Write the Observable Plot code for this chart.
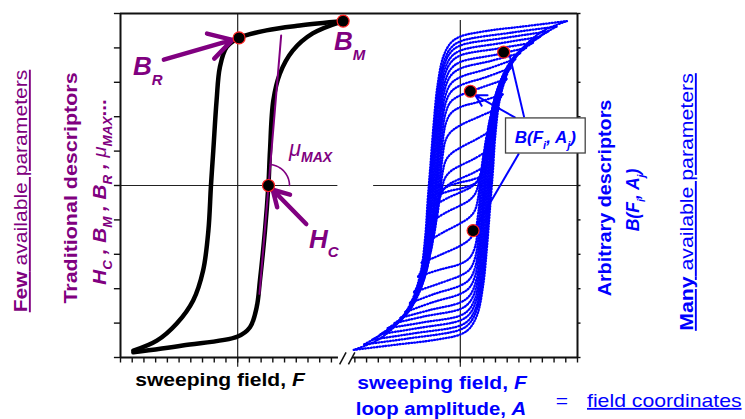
<!DOCTYPE html>
<html><head><meta charset="utf-8">
<script src="https://cdn.jsdelivr.net/npm/d3@7"></script>
<script src="https://cdn.jsdelivr.net/npm/@observablehq/plot@0.6"></script>
<style>body{margin:0;background:#fff} svg{display:block}</style>
</head><body><div id="chart"></div>
<script>
// ---------------- data ----------------
// left panel: major hysteresis loop (field F, induction B)
const majorDescending = [[9.0,4.78],[5.3,4.65],[2.45,4.51],[0.1,4.29],[-0.95,4.02],[-1.52,3.44],[-1.8,2.47],[-2.08,1.02],[-2.28,0],[-2.5,-1.31],[-2.95,-2.47],[-3.8,-3.34],[-5.2,-4.01],[-6.9,-4.51],[-8.9,-4.8]];
const majorAscending  = [[-8.9,-4.85],[-4.7,-4.65],[0,-4.39],[1.05,-4.12],[1.62,-3.54],[1.9,-2.76],[2.33,-1.31],[2.62,0],[2.76,1.02],[3.04,2.47],[3.6,3.25],[4.7,3.92],[6.4,4.42],[9.0,4.78]];
// traditional descriptors
const HC = [2.63, 0], BR = [0.12, 4.29], BM = [9.0, 4.78];
const tangentMuMax = [[1.86,-3.15],[3.71,4.36]];
// right panel: family of symmetric loops (descending branches; ascending = point reflection)
const loop1  = [[9.1,4.78],[5.3,4.62],[2.4,4.5],[0,4.33],[-0.8,4.15],[-1.45,3.75],[-1.95,2.9],[-2.3,1.7],[-2.55,0.6],[-2.78,-0.4],[-3.0,-1.5],[-3.4,-2.55],[-4.2,-3.4],[-5.4,-4.02],[-7.0,-4.48],[-9.1,-4.78]];
const loop2  = [[8.2,4.62],[4.5,4.45],[0,4.19],[-0.8,4.0],[-1.42,3.6],[-1.9,2.75],[-2.24,1.6],[-2.5,0.5],[-2.72,-0.5],[-2.94,-1.55],[-3.32,-2.55],[-4.05,-3.35],[-5.3,-3.98],[-8.2,-4.62]];
const loop3  = [[7.5,4.48],[4,4.3],[0,4.07],[-0.8,3.88],[-1.4,3.48],[-1.86,2.6],[-2.19,1.5],[-2.44,0.4],[-2.66,-0.6],[-2.88,-1.6],[-3.25,-2.55],[-3.95,-3.3],[-5.1,-3.92],[-7.5,-4.48]];
const loop4  = [[6.8,4.32],[3.5,4.14],[0,3.92],[-0.8,3.73],[-1.38,3.32],[-1.82,2.45],[-2.14,1.35],[-2.38,0.3],[-2.6,-0.7],[-2.82,-1.65],[-3.18,-2.55],[-3.85,-3.25],[-4.9,-3.85],[-6.8,-4.32]];
const loop5  = [[6.2,4.15],[3.2,3.98],[0,3.78],[-0.8,3.58],[-1.36,3.17],[-1.78,2.3],[-2.09,1.2],[-2.32,0.2],[-2.54,-0.8],[-2.76,-1.7],[-3.12,-2.55],[-3.72,-3.2],[-4.7,-3.78],[-6.2,-4.15]];
const loop6  = [[5.6,4.0],[3.0,3.8],[0,3.59],[-0.8,3.39],[-1.34,2.98],[-1.74,2.1],[-2.03,1.0],[-2.26,0.05],[-2.48,-0.9],[-2.7,-1.75],[-3.06,-2.55],[-3.62,-3.15],[-4.5,-3.7],[-5.6,-4.0]];
const loop7  = [[5.1,3.85],[2.6,3.62],[0,3.40],[-0.8,3.2],[-1.32,2.8],[-1.71,1.95],[-1.98,0.85],[-2.2,-0.1],[-2.42,-1.0],[-2.65,-1.8],[-3.0,-2.55],[-3.5,-3.1],[-4.3,-3.6],[-5.1,-3.85]];
const loop8  = [[4.7,3.68],[2.4,3.4],[0,3.15],[-0.8,2.96],[-1.3,2.58],[-1.68,1.75],[-1.94,0.7],[-2.15,-0.2],[-2.37,-1.1],[-2.6,-1.85],[-2.95,-2.55],[-3.45,-3.05],[-4.1,-3.45],[-4.7,-3.68]];
const loop9  = [[4.3,3.42],[2.2,3.15],[0,2.91],[-0.8,2.72],[-1.28,2.36],[-1.65,1.55],[-1.9,0.55],[-2.1,-0.35],[-2.32,-1.2],[-2.56,-1.9],[-2.9,-2.5],[-3.5,-3.05],[-4.3,-3.42]];
const loop10 = [[3.95,3.1],[0.9,2.74],[0,2.62],[-0.8,2.44],[-1.26,2.1],[-1.6,1.35],[-1.84,0.4],[-2.05,-0.5],[-2.28,-1.3],[-2.55,-1.95],[-2.95,-2.5],[-3.95,-3.1]];
const loop11 = [[3.6,2.65],[1.8,2.45],[0,2.28],[-0.8,2.1],[-1.24,1.8],[-1.56,1.1],[-1.78,0.2],[-2.0,-0.65],[-2.26,-1.4],[-2.6,-2.0],[-3.6,-2.65]];
const loop12 = [[3.3,2.25],[1.6,2.0],[0,1.75],[-0.8,1.56],[-1.25,1.32],[-1.53,0.8],[-1.74,0.0],[-1.97,-0.8],[-2.26,-1.45],[-2.7,-1.9],[-3.3,-2.25]];
const loop13 = [[2.9,1.65],[1.4,1.35],[0,1.1],[-0.8,0.92],[-1.25,0.72],[-1.52,0.35],[-1.74,-0.3],[-2.02,-0.95],[-2.45,-1.4],[-2.9,-1.65]];
const loop14 = [[2.5,1.05],[1.2,0.78],[0,0.58],[-0.8,0.42],[-1.3,0.22],[-1.62,-0.15],[-1.92,-0.6],[-2.2,-0.9],[-2.5,-1.05]];
const loop15 = [[2.1,0.55],[1.0,0.35],[0,0.2],[-0.9,0.05],[-1.4,-0.1],[-1.75,-0.35],[-2.1,-0.55]];
const loop16 = [[1.75,0.25],[0.8,0.15],[0,0.09],[-0.9,0.0],[-1.4,-0.1],[-1.75,-0.25]];
const loops = [loop1,loop2,loop3,loop4,loop5,loop6,loop7,loop8,loop9,loop10,loop11,loop12,loop13,loop14,loop15,loop16];
// arbitrary descriptors B(Fi, Aj)
const arbitraryPoints = [[3.70,3.875],[0.86,2.74],[1.09,-1.31]];
// axis ticks
const leftTicksX  = d3.range(-10, 9);
const rightTicksX = d3.range(-9, 11);
const ticksY = d3.range(-5, 6);

// ---------------- layout ----------------
const OFFSET = 19;           // right panel origin on the shared x scale
const PURPLE = "#800080", BLUE = "#0000ff";
const xy = (d, o = 0) => ({x: d[0] + o, y: d[1]});

const leftA = majorAscending.map(d => xy(d)), leftD = majorDescending.map(d => xy(d));
const family = [];
loops.forEach((lp, i) => {
  lp.forEach(d => family.push({x: d[0] + OFFSET, y: d[1], k: "d" + i}));
  lp.map(d => [-d[0], -d[1]]).forEach(d => family.push({x: d[0] + OFFSET, y: d[1], k: "a" + i}));
});
const rDots = arbitraryPoints.map(d => xy(d, OFFSET));

// μ arc (pixel radius converted to data units)
const kx = (745 - 120 - 168) / 39, ky = (419 - 13 - 62) / 10;
const tanAng = Math.atan2((tangentMuMax[1][1] - tangentMuMax[0][1]) * ky, (tangentMuMax[1][0] - tangentMuMax[0][0]) * kx);
const arc = d3.range(0, 1.001, 0.05).map(t => ({x: HC[0] + 21 * Math.cos(t * tanAng) / kx, y: 21 * Math.sin(t * tanAng) / ky}));

const chart = Plot.plot({
  width: 745, height: 419,
  marginLeft: 120, marginRight: 168, marginTop: 13, marginBottom: 62,
  x: {domain: [-10, 29], axis: null},
  y: {domain: [-5, 5], axis: null},
  style: {fontFamily: "'Liberation Sans', Arial, sans-serif", background: "#fff", overflow: "visible"},
  marks: [
    // zero lines
    Plot.ruleY([0], {x1: -10, x2: 8.55, stroke: "#222", strokeWidth: 1.2}),
    Plot.ruleY([0], {x1: OFFSET - 7.4, x2: 29, stroke: "#222", strokeWidth: 1.2}),
    Plot.ruleX([0], {y1: -5.28, y2: 5, stroke: "#222", strokeWidth: 1.2}),
    Plot.ruleX([OFFSET], {y1: -5.28, y2: 4.8, stroke: "#222", strokeWidth: 1.2}),
    // frame
    Plot.ruleX([-10], {y1: -5, y2: 5, stroke: "#111", strokeWidth: 2}),
    Plot.ruleX([29], {y1: -5, y2: 5, stroke: "#111", strokeWidth: 2}),
    Plot.ruleY([5], {x1: -10, x2: 29, stroke: "#111", strokeWidth: 2}),
    Plot.ruleY([-5], {x1: -10, x2: 8.6, stroke: "#111", strokeWidth: 2}),
    Plot.ruleY([-5], {x1: OFFSET - 9.2, x2: 29, stroke: "#111", strokeWidth: 2}),
    // break marks
    Plot.link([8.7, 9.45], {x1: d => d, y1: -5.2, x2: d => d + 0.55, y2: -4.85, stroke: "#111", strokeWidth: 1.5}),
    // ticks
    Plot.ruleX(leftTicksX, {x: d => d, y1: -5, y2: -5.16, stroke: "#111", strokeWidth: 1.4}),
    Plot.ruleX(rightTicksX, {x: d => d + OFFSET, y1: -5, y2: -5.16, stroke: "#111", strokeWidth: 1.4}),
    Plot.ruleY(ticksY, {y: d => d, x1: -10, x2: -10.52, stroke: "#111", strokeWidth: 1.4}),
    Plot.ruleY(ticksY, {y: d => d, x1: 29, x2: 29.3, stroke: "#111", strokeWidth: 1.4}),
    // left panel: major loop
    Plot.line(leftD, {x: "x", y: "y", curve: "catmull-rom", stroke: "#000", strokeWidth: 4.5}),
    Plot.line(leftA, {x: "x", y: "y", curve: "catmull-rom", stroke: "#000", strokeWidth: 4.5}),
    Plot.line(tangentMuMax.map(d => xy(d)), {x: "x", y: "y", stroke: PURPLE, strokeWidth: 2}),
    Plot.line(arc, {x: "x", y: "y", stroke: PURPLE, strokeWidth: 1.6}),
    Plot.arrow([0], {x1: -6.3, y1: 3.66, x2: BR[0], y2: BR[1], insetEnd: 7, stroke: PURPLE, strokeWidth: 4.5, headLength: 12}),
    Plot.arrow([0], {x1: 5.85, y1: -1.12, x2: HC[0], y2: HC[1], insetEnd: 6, stroke: PURPLE, strokeWidth: 4.5, headLength: 12}),
    Plot.dot([HC, BR, BM].map(d => xy(d)), {x: "x", y: "y", r: 6, fill: "#000", stroke: "#ff2020", strokeWidth: 1.2}),
    // right panel: loop family
    Plot.line(family, {x: "x", y: "y", z: "k", curve: "catmull-rom", stroke: BLUE, strokeWidth: 2.3, strokeDasharray: "0.8,2.1", strokeLinecap: "round"}),
    // connectors from label box
    Plot.link([0], {x1: OFFSET + 5.45, y1: 1.98, x2: OFFSET + 4.2, y2: 3.8, stroke: BLUE, strokeWidth: 2}),
    Plot.arrow([0], {x1: OFFSET + 4.65, y1: 1.98, x2: OFFSET + 1.3, y2: 2.62, stroke: BLUE, strokeWidth: 2, headLength: 9}),
    Plot.link([0], {x1: OFFSET + 5.0, y1: 0.93, x2: OFFSET + 1.35, y2: -1.2, stroke: BLUE, strokeWidth: 2}),
    Plot.rect([0], {x1: OFFSET + 3.9, x2: OFFSET + 10.7, y1: 0.93, y2: 1.95, fill: "#fff", stroke: "#444", strokeWidth: 1.3}),
    Plot.dot(rDots, {x: "x", y: "y", r: 6, fill: "#000", stroke: "#ff2020", strokeWidth: 1.2})
  ]
});
document.getElementById("chart").appendChild(chart);

// ---------------- text (with sub-scripts) ----------------
const svg = d3.select(chart);
const X = chart.scale("x");
function label(x, y, parts, o = {}) {
  const size = o.size || 18;
  const t = svg.append("text").attr("x", 0).attr("y", 0)
    .attr("fill", o.fill || "#000").attr("font-size", size)
    .attr("font-family", "'Liberation Sans', Arial, sans-serif")
    .attr("text-anchor", o.anchor || "start")
    .attr("transform", `translate(${x},${y})${o.rotate ? " rotate(-90)" : ""} scale(${o.sx || 1},1)`);
  let shift = 0;
  parts.forEach(p => {
    const s = t.append("tspan").text(p.t);
    const want = p.sub ? (p.dy ?? 0.35 * size) : 0;
    if (want !== shift) { s.attr("dy", want - shift); shift = want; }
    if (p.b) s.attr("font-weight", "bold");
    if (p.i) s.attr("font-style", "italic");
    if (p.u) s.attr("text-decoration", "underline");
    if (p.size) s.attr("font-size", p.size);
  });
  return t;
}
// left-side rotated texts
label(27, 191, [{t: "Few", b: 1, u: 1}, {t: " available parameters", u: 1}], {fill: PURPLE, size: 19, sx: 1.11, rotate: 1, anchor: "middle"});
label(77, 188, [{t: "Traditional descriptors", b: 1}], {fill: PURPLE, size: 18.5, sx: 1.16, rotate: 1, anchor: "middle"});
label(106, 192, [
  {t: "H", b: 1, i: 1}, {t: "C", b: 1, i: 1, sub: 1, size: 12}, {t: " , B", b: 1, i: 1}, {t: "M", b: 1, i: 1, sub: 1, size: 12},
  {t: " , B", b: 1, i: 1}, {t: "R", b: 1, i: 1, sub: 1, size: 12}, {t: " , ", b: 1, i: 1}, {t: "μ", i: 1, size: 18},
  {t: "MAX", b: 1, i: 1, sub: 1, size: 12}, {t: "...", b: 1}
], {fill: PURPLE, size: 18.5, sx: 1.12, rotate: 1, anchor: "middle"});
// right-side rotated texts
label(611, 198, [{t: "Arbitrary descriptors", b: 1}], {fill: BLUE, size: 18.5, sx: 1.07, rotate: 1, anchor: "middle"});
label(639, 200, [{t: "B(F", b: 1, i: 1}, {t: "i", b: 1, i: 1, sub: 1, size: 11}, {t: ", A", b: 1, i: 1}, {t: "j", b: 1, i: 1, sub: 1, size: 11}, {t: ")", b: 1, i: 1}], {fill: BLUE, size: 18.5, sx: 0.95, rotate: 1, anchor: "middle"});
label(693, 202, [{t: "Many", b: 1, u: 1}, {t: " available parameters", u: 1}], {fill: BLUE, size: 19, sx: 1.12, rotate: 1, anchor: "middle"});
// box label
label(X.apply(OFFSET + 7.3), 143, [{t: "B(F", b: 1, i: 1}, {t: "i", b: 1, i: 1, sub: 1, size: 11}, {t: ", A", b: 1, i: 1}, {t: "j", b: 1, i: 1, sub: 1, size: 11}, {t: ")", b: 1, i: 1}], {fill: BLUE, size: 17, anchor: "middle"});
// bottom texts
label(220, 386, [{t: "sweeping field, ", b: 1}, {t: "F", b: 1, i: 1}], {size: 18, sx: 1.17, anchor: "middle"});
label(442, 389, [{t: "sweeping field, ", b: 1}, {t: "F", b: 1, i: 1}], {fill: BLUE, size: 18, sx: 1.17, anchor: "middle"});
label(441, 415, [{t: "loop amplitude, ", b: 1}, {t: "A", b: 1, i: 1}], {fill: BLUE, size: 18, sx: 1.13, anchor: "middle"});
label(562, 407, [{t: "="}], {fill: BLUE, size: 18, sx: 1.17, anchor: "middle"});
label(587, 407, [{t: "field coordinates", u: 1}], {fill: BLUE, size: 18, sx: 1.18});
// annotation labels in the left panel
label(133, 75, [{t: "B", b: 1, i: 1}, {t: "R", b: 1, i: 1, sub: 1, dy: 10, size: 15}], {fill: PURPLE, size: 26});
label(334, 50, [{t: "B", b: 1, i: 1}, {t: "M", b: 1, i: 1, sub: 1, dy: 10, size: 15}], {fill: PURPLE, size: 26});
label(309, 248, [{t: "H", b: 1, i: 1}, {t: "C", b: 1, i: 1, sub: 1, dy: 9, size: 15}], {fill: PURPLE, size: 26});
label(289, 156, [{t: "μ", i: 1, size: 22}, {t: "MAX", b: 1, i: 1, sub: 1, dy: 6, size: 14}], {fill: PURPLE, size: 22});
</script></body></html>
